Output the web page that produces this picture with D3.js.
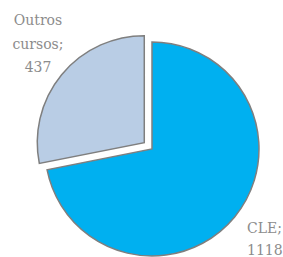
<!DOCTYPE html>
<html>
<head>
<meta charset="utf-8">
<script src="https://cdn.jsdelivr.net/npm/d3@7"></script>
<style>
  body { margin: 0; background: #fff; }
</style>
</head>
<body>
<div id="chart"></div>
<script>
// data
const categories = ['CLE', 'Outros cursos']
const values = [1118, 437]
const colors = ['#00b0f0', '#b9cde5']
const exploded = [0, 10]

const width = 283
const height = 257
const cx = 152
const cy = 149
const radius = 107
const fontFamily = "'DejaVu Serif', serif"

const svg = d3.select('#chart').append('svg')
  .attr('width', width)
  .attr('height', height)

const pie = d3.pie().sort(null).value(d => d)
const arcs = pie(values)
const arc = d3.arc().innerRadius(0).outerRadius(radius)

const g = svg.append('g').attr('transform', `translate(${cx},${cy})`)

g.selectAll('path')
  .data(arcs)
  .enter().append('path')
  .attr('d', arc)
  .attr('fill', (d, i) => colors[i])
  .attr('stroke', '#7f7f7f')
  .attr('stroke-width', 1.5)
  .attr('transform', (d, i) => {
    const a = (d.startAngle + d.endAngle) / 2
    return `translate(${Math.sin(a) * exploded[i]},${-Math.cos(a) * exploded[i]})`
  })

// labels
const outros = svg.append('text')
  .attr('text-anchor', 'middle')
  .attr('font-family', fontFamily)
  .attr('font-size', 14)
  .attr('fill', '#8c8c8c')
outros.append('tspan').attr('x', 38).attr('y', 25).text('Outros')
outros.append('tspan').attr('x', 38).attr('y', 49).text(categories[1].split(' ')[1] + ';')
outros.append('tspan').attr('x', 38).attr('y', 72).text(values[1])

const cle = svg.append('text')
  .attr('text-anchor', 'start')
  .attr('font-family', fontFamily)
  .attr('font-size', 14)
  .attr('fill', '#8c8c8c')
cle.append('tspan').attr('x', 247).attr('y', 233).text(categories[0] + ';')
cle.append('tspan').attr('x', 247).attr('y', 255).text(values[0])
</script>
</body>
</html>
